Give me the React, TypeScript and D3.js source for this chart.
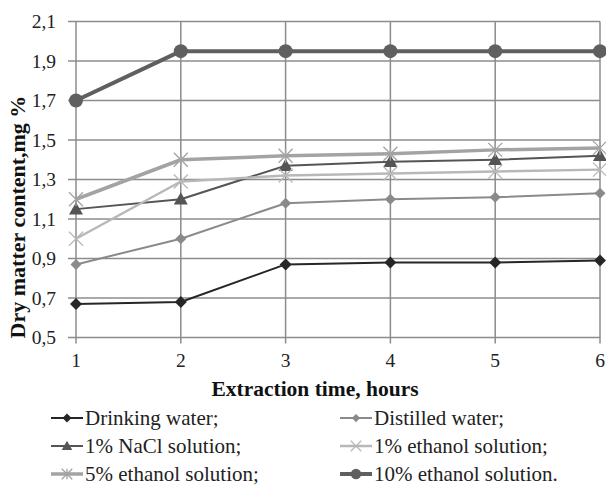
import React from "react";
import * as d3 from "d3";

const hours = [1, 2, 3, 4, 5, 6];
const yTicks = [0.5, 0.7, 0.9, 1.1, 1.3, 1.5, 1.7, 1.9, 2.1];

const drinkingWater = [0.67, 0.68, 0.87, 0.88, 0.88, 0.89];
const distilledWater = [0.87, 1.0, 1.18, 1.2, 1.21, 1.23];
const nacl1 = [1.15, 1.2, 1.37, 1.39, 1.4, 1.42];
const ethanol1 = [1.0, 1.29, 1.32, 1.33, 1.34, 1.35];
const ethanol5 = [1.2, 1.4, 1.42, 1.43, 1.45, 1.46];
const ethanol10 = [1.7, 1.95, 1.95, 1.95, 1.95, 1.95];

const seriesNames = [
  "Drinking water;",
  "Distilled water;",
  "1% NaCl solution;",
  "1% ethanol solution;",
  "5% ethanol solution;",
  "10% ethanol solution.",
];

type Marker = "diamond" | "triangle" | "x" | "star" | "circle";
const seriesValues = [drinkingWater, distilledWater, nacl1, ethanol1, ethanol5, ethanol10];
const seriesStyle: { color: string; width: number; marker: Marker; size: number }[] = [
  { color: "#262626", width: 2, marker: "diamond", size: 6 },
  { color: "#8a8a8a", width: 2, marker: "diamond", size: 5.5 },
  { color: "#555555", width: 2, marker: "triangle", size: 7 },
  { color: "#b8b8b8", width: 2.5, marker: "x", size: 7 },
  { color: "#a3a3a3", width: 3.5, marker: "star", size: 7 },
  { color: "#5f5f5f", width: 4, marker: "circle", size: 7 },
];

const FONT = "Liberation Serif";

function MarkerShape({ m, x, y, color, size }: { m: Marker; x: number; y: number; color: string; size: number }) {
  const s = size;
  switch (m) {
    case "diamond":
      return <path d={`M${x},${y - s}L${x + s},${y}L${x},${y + s}L${x - s},${y}Z`} fill={color} />;
    case "triangle":
      return <path d={`M${x},${y - s}L${x + s},${y + s * 0.75}L${x - s},${y + s * 0.75}Z`} fill={color} />;
    case "circle":
      return <circle cx={x} cy={y} r={s} fill={color} />;
    case "x":
      return (
        <path
          d={`M${x - s},${y - s}L${x + s},${y + s}M${x - s},${y + s}L${x + s},${y - s}`}
          stroke={color}
          strokeWidth={1.3}
          fill="none"
        />
      );
    case "star":
      return (
        <path
          d={`M${x - s},${y - s}L${x + s},${y + s}M${x - s},${y + s}L${x + s},${y - s}M${x},${y - s}L${x},${y + s}`}
          stroke={color}
          strokeWidth={1.3}
          fill="none"
        />
      );
  }
}

export default function App() {
  const W = 606;
  const H = 489;
  const x = d3.scaleLinear().domain([1, 6]).range([76, 600]);
  const y = d3.scaleLinear().domain([0.5, 2.1]).range([337.5, 21.5]);
  const line = d3
    .line<number>()
    .x((_, i) => x(hours[i]))
    .y((d) => y(d));

  const gridColor = "#8c8c8c";
  const legendRows = [418, 446, 474];
  const legendCols = [51, 340];
  const tstyle = { fontFamily: FONT };

  return (
    <svg width={W} height={H} style={{ position: "absolute", left: 0, top: 0, background: "#fff" }}>
      <rect width={W} height={H} fill="#fff" />
      {yTicks.map((t) => (
        <line key={"h" + t} x1={68} x2={600} y1={y(t)} y2={y(t)} stroke={gridColor} strokeWidth={1.5} />
      ))}
      {hours.map((h) => (
        <line key={"v" + h} x1={x(h)} x2={x(h)} y1={y(2.1)} y2={y(0.5) + 6} stroke={gridColor} strokeWidth={1.5} />
      ))}
      {yTicks.map((t) => (
        <text key={"yl" + t} x={56} y={y(t)} dy="0.35em" textAnchor="end" fontSize={19.5} fill="#222" style={tstyle}>
          {t.toFixed(1).replace(".", ",")}
        </text>
      ))}
      {hours.map((h) => (
        <text key={"xl" + h} x={x(h)} y={360} dy="0.35em" textAnchor="middle" fontSize={19.5} fill="#222" style={tstyle}>
          {h}
        </text>
      ))}
      <text x={315} y={388} dy="0.35em" textAnchor="middle" fontSize={21.5} fontWeight="bold" fill="#111" style={tstyle}>
        Extraction time, hours
      </text>
      <text
        transform={`translate(25,217) rotate(-90)`}
        textAnchor="middle"
        fontSize={22}
        fontWeight="bold"
        fill="#111"
        style={tstyle}
      >
        Dry matter content,mg %
      </text>
      {seriesValues.map((vals, si) => {
        const st = seriesStyle[si];
        return (
          <g key={"s" + si}>
            <path d={line(vals) || ""} fill="none" stroke={st.color} strokeWidth={st.width} strokeLinejoin="round" />
            {vals.map((v, i) => (
              <MarkerShape key={i} m={st.marker} x={x(hours[i])} y={y(v)} color={st.color} size={st.size} />
            ))}
          </g>
        );
      })}
      {seriesNames.map((name, i) => {
        const st = seriesStyle[i];
        const lx = legendCols[i % 2];
        const ly = legendRows[Math.floor(i / 2)];
        return (
          <g key={"lg" + i}>
            <line x1={lx} x2={lx + 32} y1={ly} y2={ly} stroke={st.color} strokeWidth={st.width} />
            <MarkerShape m={st.marker} x={lx + 16} y={ly} color={st.color} size={st.size * 0.75} />
            <text x={lx + 34} y={ly} dy="0.35em" fontSize={21} fill="#222" style={tstyle}>
              {name}
            </text>
          </g>
        );
      })}
    </svg>
  );
}
